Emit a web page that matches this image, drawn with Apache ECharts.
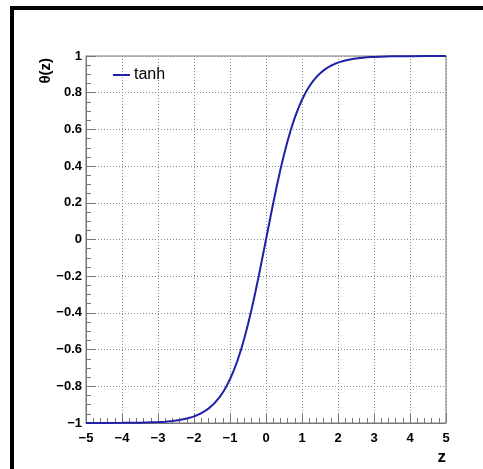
<!DOCTYPE html>
<html>
<head>
<meta charset="utf-8">
<title>tanh</title>
<script src="https://cdn.jsdelivr.net/npm/echarts@6/dist/echarts.min.js"></script>
<style>
  html, body { margin: 0; padding: 0; background: #fff; }
  #chart { width: 483px; height: 469px; }
</style>
</head>
<body>
<div id="chart"></div>
<script>
// values
var zValues = [
  -5, -4.5, -4, -3.5, -3, -2.9, -2.8, -2.7, -2.6, -2.5, -2.4, -2.3, -2.2, -2.1, -2,
  -1.9, -1.8, -1.7, -1.6, -1.5, -1.4, -1.3, -1.2, -1.1, -1, -0.9, -0.8, -0.7, -0.6,
  -0.5, -0.4, -0.3, -0.2, -0.1, 0, 0.1, 0.2, 0.3, 0.4, 0.5, 0.6, 0.7, 0.8, 0.9, 1,
  1.1, 1.2, 1.3, 1.4, 1.5, 1.6, 1.7, 1.8, 1.9, 2, 2.1, 2.2, 2.3, 2.4, 2.5, 2.6, 2.7,
  2.8, 2.9, 3, 3.5, 4, 4.5, 5
];
var thetaValues = [
  -0.9999, -0.9998, -0.9993, -0.9982, -0.9951, -0.994, -0.9926, -0.991, -0.989, -0.9866,
  -0.9837, -0.9801, -0.9757, -0.9705, -0.964, -0.9562, -0.9468, -0.9354, -0.9217, -0.9051,
  -0.8854, -0.8617, -0.8337, -0.8005, -0.7616, -0.7163, -0.664, -0.6044, -0.537, -0.4621,
  -0.3799, -0.2913, -0.1974, -0.0997, 0, 0.0997, 0.1974, 0.2913, 0.3799, 0.4621, 0.537,
  0.6044, 0.664, 0.7163, 0.7616, 0.8005, 0.8337, 0.8617, 0.8854, 0.9051, 0.9217, 0.9354,
  0.9468, 0.9562, 0.964, 0.9705, 0.9757, 0.9801, 0.9837, 0.9866, 0.989, 0.991, 0.9926,
  0.994, 0.9951, 0.9982, 0.9993, 0.9998, 0.9999
];
var seriesName = 'tanh';
var xTitle = 'z';
var yTitle = 'θ(z)';

var points = zValues.map(function (z, i) { return [z, thetaValues[i]]; });

function minusSign(v) {
  return String(v).replace('-', '\u2212');
}

var chart = echarts.init(document.getElementById('chart'));
var labelFont = { color: '#000', fontFamily: 'Liberation Sans', fontWeight: 'bold', fontSize: 13 };

var option = {
  backgroundColor: '#fff',
  animation: false,
  graphic: [
    { // canvas border
      type: 'rect',
      shape: { x: 12, y: 8, width: 600, height: 600 },
      style: { fill: null, stroke: '#000', lineWidth: 4 }
    }
  ],
  grid: {
    left: 86, right: 37, top: 56, bottom: 46,
    show: true, borderColor: '#777', borderWidth: 1
  },
  legend: {
    left: 108, top: 62,
    itemWidth: 17, itemHeight: 2, itemGap: 4,
    icon: 'rect',
    data: [seriesName],
    textStyle: { color: '#000', fontFamily: 'Liberation Sans', fontSize: 16, padding: [0, 0, 0, -1] }
  },
  xAxis: {
    type: 'value',
    min: -5, max: 5, interval: 1,
    name: xTitle,
    nameLocation: 'end',
    nameGap: 0,
    nameTextStyle: {
      color: '#000', fontFamily: 'Liberation Sans', fontWeight: 'bold', fontSize: 17,
      align: 'right', verticalAlign: 'top', padding: [26, 0, 0, 0]
    },
    axisLine: { show: true, onZero: false, lineStyle: { color: '#777', width: 1 } },
    axisTick: { show: true, inside: true, length: 9, lineStyle: { color: '#777' } },
    minorTick: { show: true, splitNumber: 5, length: 5, lineStyle: { color: '#777' } },
    axisLabel: Object.assign({ margin: 9, formatter: minusSign }, labelFont),
    splitLine: { show: true, lineStyle: { color: '#888', type: [1, 2], width: 1 } }
  },
  yAxis: {
    type: 'value',
    min: -1, max: 1, interval: 0.2,
    name: yTitle,
    nameLocation: 'end',
    nameGap: -2,
    nameRotate: 90,
    nameTextStyle: {
      color: '#000', fontFamily: 'Liberation Sans', fontWeight: 'bold', fontSize: 15,
      align: 'right', verticalAlign: 'bottom', padding: [0, 0, 33, 0]
    },
    axisLine: { show: true, onZero: false, lineStyle: { color: '#777', width: 1 } },
    axisTick: { show: true, inside: true, length: 10, lineStyle: { color: '#777' } },
    minorTick: { show: true, splitNumber: 4, length: 5, lineStyle: { color: '#777' } },
    axisLabel: Object.assign({ margin: 4, formatter: minusSign }, labelFont),
    splitLine: { show: true, lineStyle: { color: '#888', type: [1, 2], width: 1 } }
  },
  series: [
    {
      name: seriesName,
      type: 'line',
      data: points,
      showSymbol: false,
      symbol: 'none',
      lineStyle: { color: '#2020a8', width: 2 },
      itemStyle: { color: '#2020a8' }
    }
  ]
};

chart.setOption(option);
window.addEventListener('resize', function () {
  chart.resize();
});
</script>
</body>
</html>
